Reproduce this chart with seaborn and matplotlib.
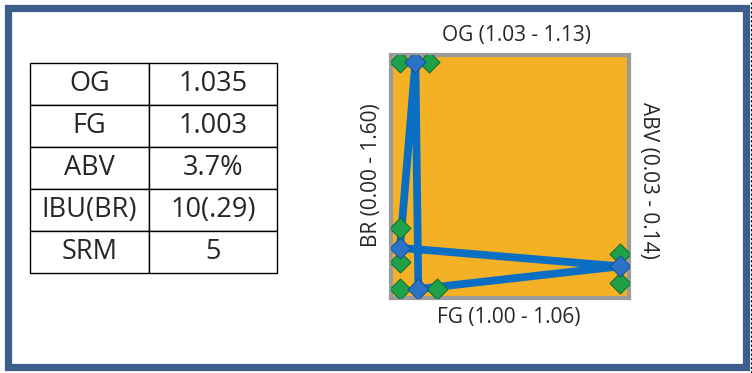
import numpy as np
import pandas as pd
import matplotlib
matplotlib.use("Agg")
import matplotlib.pyplot as plt
import seaborn as sns
from matplotlib.patches import Rectangle
from matplotlib.lines import Line2D

# table on the left
table_labels = ["OG", "FG", "ABV", "IBU(BR)", "SRM"]
table_values = ["1.035", "1.003", "3.7%", "10(.29)", "5"]

# axis ranges of the style chart
og_range = (1.03, 1.13)
fg_range = (1.00, 1.06)
br_range = (0.00, 1.60)
abv_range = (0.03, 0.14)

# style limits (green) and recipe value (blue)
og_style = [1.030, 1.043]
fg_style = [1.000, 1.010]
br_style = [0.19, 0.43]
abv_style = [0.033, 0.047]
og_value = 1.037
fg_value = 1.005
br_value = 0.29
abv_value = 0.041

W, H = 752, 373


def norm(v, rng):
    return (v - rng[0]) / (rng[1] - rng[0])


def px_box(x0, y0, x1, y1):
    # pixel box (top-left origin) -> figure fraction rect
    return [x0 / W, 1 - y1 / H, (x1 - x0) / W, (y1 - y0) / H]


sns.set_style("white")
plt.rcParams['font.family'] = ['Open Sans', 'DejaVu Sans']

fig = plt.figure(figsize=(W / 100, H / 100), dpi=100)

# outer frame
fig.patches.append(Rectangle((7.5 / W, 1 - 366.5 / H), 738 / W, 359 / H,
                             transform=fig.transFigure, fill=False,
                             edgecolor='#3B5E8C', linewidth=5.2))
fig.lines.append(Line2D([751 / W, 751 / W], [0, 1], transform=fig.transFigure,
                        color='black', linewidth=0.8, linestyle=(0, (2, 2))))

# table
tax = fig.add_axes(px_box(30, 63, 277, 273))
tax.axis('off')
cells = [[a, b] for a, b in zip(table_labels, table_values)]
tbl = tax.table(cellText=cells, cellLoc='center', bbox=[0, 0, 1, 1],
                colWidths=[119 / 247, 128 / 247])
tbl.auto_set_font_size(False)
for (r, c), cell in tbl.get_celld().items():
    cell.set_linewidth(1.0)
    cell.set_edgecolor('black')
    cell.get_text().set_fontsize(19.5)

# style chart
ax = fig.add_axes(px_box(391, 55, 629, 298))
ax.set_facecolor('#F5B125')
for s in ax.spines.values():
    s.set_color('#9A9A9A')
    s.set_linewidth(3)
ax.set_xlim(-9 / 220, 229 / 220)
ax.set_ylim(-9 / 227, 1 + 7 / 227)
ax.set_xticks([])
ax.set_yticks([])

path = pd.DataFrame({
    'x': [norm(og_value, og_range), 0, 1, norm(fg_value, fg_range), norm(og_value, og_range)],
    'y': [1, norm(br_value, br_range), norm(abv_value, abv_range), 0, 1],
})
sns.lineplot(data=path, x='x', y='y', sort=False, estimator=None, ax=ax,
             color='#0A6FC2', linewidth=5.6, solid_joinstyle='miter', zorder=2)

green = pd.DataFrame({
    'x': [norm(v, og_range) for v in og_style] + [norm(v, fg_range) for v in fg_style]
         + [0, 0] + [1, 1],
    'y': [1, 1, 0, 0] + [norm(v, br_range) for v in br_style]
         + [norm(v, abv_range) for v in abv_style],
})
blue = pd.DataFrame({
    'x': [norm(og_value, og_range), norm(fg_value, fg_range), 0, 1],
    'y': [1, 0, norm(br_value, br_range), norm(abv_value, abv_range)],
})
sns.scatterplot(data=green, x='x', y='y', marker='D', s=115, color='#1FA14A',
                edgecolor='#0E6B2C', linewidth=0.7, ax=ax, zorder=3)
sns.scatterplot(data=blue, x='x', y='y', marker='D', s=115, color='#2A73C6',
                edgecolor='#174E8C', linewidth=0.7, ax=ax, zorder=4)
ax.set_xlabel('')
ax.set_ylabel('')


def rng_label(name, rng):
    return f"{name} ({rng[0]:.2f} - {rng[1]:.2f})"


fs = 15
fig.text(517 / W, 1 - 36 / H, rng_label("OG", og_range), ha='center', va='center', fontsize=fs)
fig.text(509 / W, 1 - 318 / H, rng_label("FG", fg_range), ha='center', va='center', fontsize=fs)
fig.text(372 / W, 1 - 175 / H, rng_label("BR", br_range), ha='center', va='center',
         fontsize=fs, rotation=90)
fig.text(648 / W, 1 - 180 / H, rng_label("ABV", abv_range), ha='center', va='center',
         fontsize=fs, rotation=-90)

fig.savefig('out.png', dpi=100)
